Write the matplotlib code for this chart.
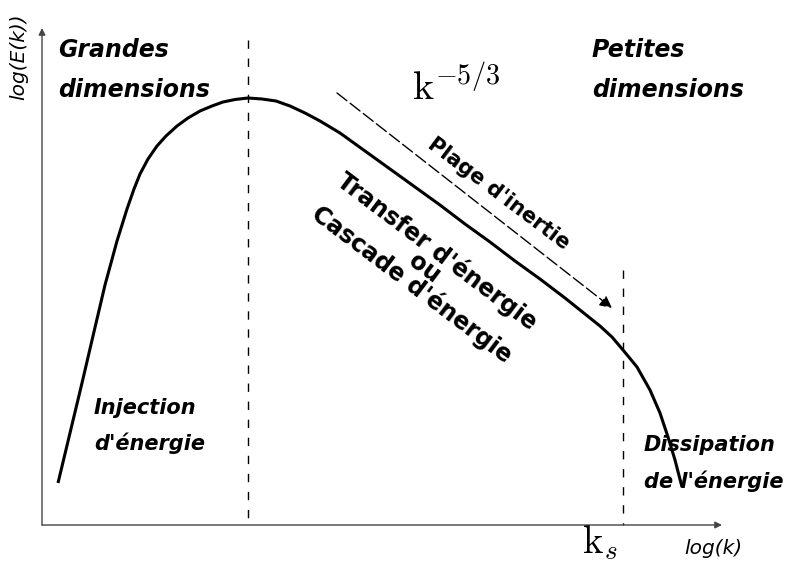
import numpy as np
import matplotlib
matplotlib.use('Agg')
import matplotlib.pyplot as plt

plt.rcParams['mathtext.fontset'] = 'cm'

# spectrum curve (pixel-like units, y downward)
curve_x = [58, 70, 82, 93, 105, 117, 127, 134, 140, 148, 157, 166, 177, 188, 200, 212, 223,
           235, 248, 262, 276, 290, 305, 320, 340, 365, 390, 415, 440, 465, 490, 515, 540,
           565, 580, 590, 600, 612, 623, 637, 650, 660, 668, 675, 682]
curve_y = [483, 433, 383, 336, 285, 241, 209, 189, 174, 159, 146, 136, 126, 118, 111, 106, 102,
           99.5, 98, 99, 101, 106, 113, 121, 133, 151, 169, 187, 205, 224, 242, 261, 279,
           298, 310, 318, 326, 337, 350, 367, 390, 413, 437, 460, 487]

k_peak = 248
k_s = 623

fig = plt.figure(figsize=(7.87, 5.62), dpi=100)
ax = fig.add_axes([0, 0, 1, 1])
ax.set_xlim(0, 787)
ax.set_ylim(562, 0)
ax.axis('off')

# axes arrows
ax.annotate('', xy=(42, 28), xytext=(42, 525),
            arrowprops=dict(arrowstyle='-|>', lw=1.0, color='#444444', mutation_scale=10,
                            shrinkA=0, shrinkB=0))
ax.annotate('', xy=(722, 525), xytext=(42, 525),
            arrowprops=dict(arrowstyle='-|>', lw=1.0, color='#444444', mutation_scale=10,
                            shrinkA=0, shrinkB=0))

ax.plot(curve_x, curve_y, color='black', lw=2.2, solid_capstyle='butt', solid_joinstyle='round')

ax.plot([k_peak, k_peak], [40, 525], color='black', lw=1.0, ls=(0, (6, 7)))
ax.plot([k_s, k_s], [270, 525], color='black', lw=1.0, ls=(0, (6, 7)))

# k^-5/3 slope arrow
ax.annotate('', xy=(612, 308), xytext=(337, 93),
            arrowprops=dict(arrowstyle='-|>', lw=1.0, color='black', ls=(0, (9, 3)),
                            mutation_scale=18, shrinkA=0, shrinkB=0))

bi = dict(fontsize=17, fontweight='bold', fontstyle='italic', color='black')
ax.text(58, 50, 'Grandes', va='center', ha='left', **bi)
ax.text(58, 90, 'dimensions', va='center', ha='left', **bi)
ax.text(592, 50, 'Petites', va='center', ha='left', **bi)
ax.text(592, 90, 'dimensions', va='center', ha='left', **bi)

bi2 = dict(fontsize=15, fontweight='bold', fontstyle='italic', color='black')
ax.text(94, 408, 'Injection', va='center', ha='left', **bi2)
ax.text(94, 443, "d'énergie", va='center', ha='left', **bi2)
ax.text(644, 445, 'Dissipation', va='center', ha='left', **bi2)
ax.text(644, 481, "de l'énergie", va='center', ha='left', **bi2)

b = dict(fontweight='bold', color='black', rotation=-37,
         rotation_mode='anchor', ha='center', va='center')
ax.text(499, 194, "Plage d'inertie", fontsize=15, **b)
ax.text(425, 268, "Transfer d'énergie\nou\nCascade d'énergie", fontsize=17,
        linespacing=0.8, **b)

ax.text(456, 88, r'$\mathrm{k}^{-5/3}$', fontsize=29, ha='center', va='center')
ax.text(600, 543, r'$\mathrm{k}_s$', fontsize=28, ha='center', va='center')

ax.text(713, 548, 'log(k)', fontsize=14.5, fontstyle='italic', ha='center', va='center')
ax.text(19, 57, 'log(E(k))', fontsize=14.5, fontstyle='italic', rotation=90,
        ha='center', va='center')

fig.savefig('out.png', dpi=100)
